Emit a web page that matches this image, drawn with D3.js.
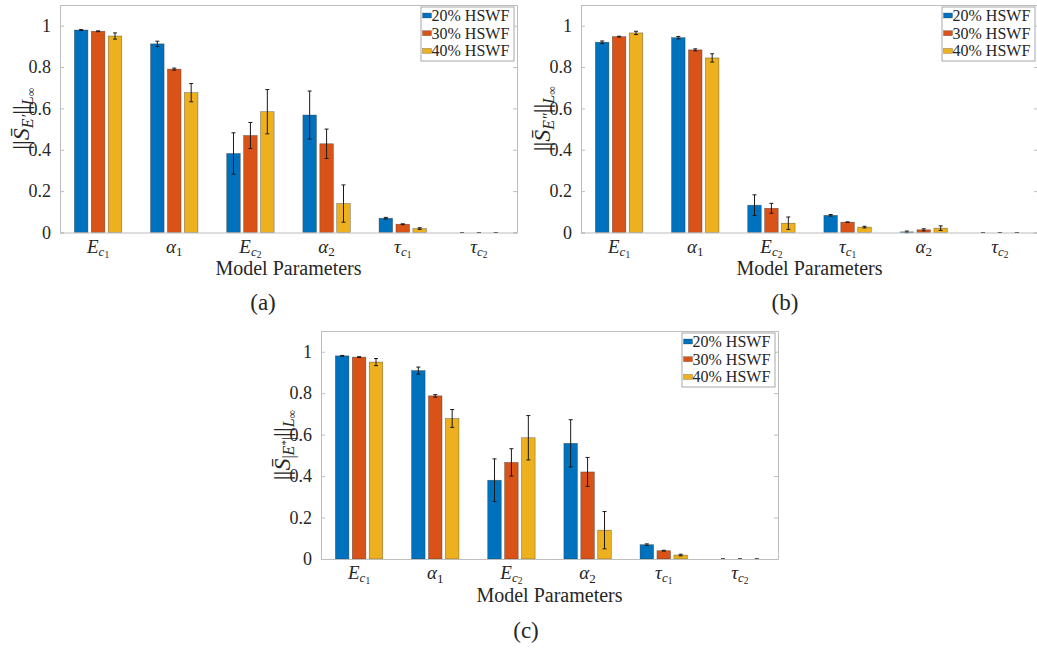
<!DOCTYPE html>
<html><head><meta charset="utf-8">
<script src="https://cdn.jsdelivr.net/npm/d3@7"></script>
<style>
html,body{margin:0;padding:0;background:#fff;}
svg{display:block;}
text{fill:#262626;}
</style></head>
<body>
<svg id="fig" width="1037" height="648"></svg>
<script>
// ---------- DATA ----------
const seriesNames = ["20% HSWF", "30% HSWF", "40% HSWF"];
const seriesColors = ["#0072BD", "#D95319", "#EDB120"];
const yTicks = [0, 0.2, 0.4, 0.6, 0.8, 1];
const yTickLabels = ["0", "0.2", "0.4", "0.6", "0.8", "1"];
const xLabel = "Model Parameters";

// category keys: E1=E_{c1}, a1=α1, E2=E_{c2}, a2=α2, t1=τ_{c1}, t2=τ_{c2}
const catsA = ["E1", "a1", "E2", "a2", "t1", "t2"];
const catsB = ["E1", "a1", "E2", "t1", "a2", "t2"];
const catsC = ["E1", "a1", "E2", "a2", "t1", "t2"];

const valsA20 = [0.979, 0.912, 0.382, 0.568, 0.069, 0];
const valsA30 = [0.973, 0.790, 0.469, 0.429, 0.040, 0];
const valsA40 = [0.950, 0.676, 0.584, 0.140, 0.019, 0];
const errA20 = [0.002, 0.013, 0.100, 0.116, 0.004, 0];
const errA30 = [0.002, 0.005, 0.063, 0.071, 0.002, 0];
const errA40 = [0.015, 0.044, 0.107, 0.090, 0.004, 0];

const valsB20 = [0.920, 0.942, 0.132, 0.083, 0.003, 0];
const valsB30 = [0.947, 0.883, 0.117, 0.050, 0.013, 0];
const valsB40 = [0.965, 0.844, 0.045, 0.026, 0.021, 0];
const errB20 = [0.006, 0.006, 0.050, 0.004, 0.004, 0];
const errB30 = [0.002, 0.005, 0.024, 0.001, 0.005, 0];
const errB40 = [0.008, 0.020, 0.030, 0.004, 0.011, 0];

const valsC20 = [0.980, 0.909, 0.380, 0.558, 0.069, 0];
const valsC30 = [0.974, 0.787, 0.466, 0.420, 0.040, 0];
const valsC40 = [0.950, 0.678, 0.585, 0.139, 0.019, 0];
const errC20 = [0.002, 0.017, 0.103, 0.114, 0.004, 0];
const errC30 = [0.002, 0.006, 0.066, 0.070, 0.002, 0];
const errC40 = [0.017, 0.043, 0.107, 0.090, 0.004, 0];

// ---------- FONT ----------
function hasFont(name) {
  const c = document.createElement("canvas").getContext("2d");
  const s = "Model Parameters 0.8 HSWF";
  c.font = "40px monospace";
  const w0 = c.measureText(s).width;
  c.font = `40px "${name}", monospace`;
  return Math.abs(c.measureText(s).width - w0) > 0.5;
}
const libOK = hasFont("Liberation Serif");
const FONT = libOK ? '"Liberation Serif", "DejaVu Serif", serif' : '"DejaVu Serif", serif';
const FS = libOK ? 1 : 0.82;
const fs = v => v * FS;

// ---------- LAYOUT ----------
const panels = [
  {left: 60, top: 5, w: 457, h: 227.5, cats: catsA, vals: [valsA20, valsA30, valsA40], errs: [errA20, errA30, errA40],
   ylab: "Ep", cap: "(a)", capX: 263, capY: 310},
  {left: 581, top: 5, w: 457, h: 227.5, cats: catsB, vals: [valsB20, valsB30, valsB40], errs: [errB20, errB30, errB40],
   ylab: "Epp", cap: "(b)", capX: 785, capY: 310},
  {left: 321, top: 331, w: 457, h: 228, cats: catsC, vals: [valsC20, valsC30, valsC40], errs: [errC20, errC30, errC40],
   ylab: "Es", cap: "(c)", capX: 526, capY: 638}
];

const svg = d3.select("#fig").style("font-family", FONT);
const axisColor = "#bdbdbd";

function tickLabel(textSel, key) {
  const main = {E1: "E", E2: "E", a1: "\u03B1", a2: "\u03B1", t1: "\u03C4", t2: "\u03C4"}[key];
  textSel.text(null);
  textSel.append("tspan").attr("font-style", "italic").attr("font-size", fs(19)).text(main);
  if (key[0] === "a") {
    textSel.append("tspan").attr("font-size", fs(13)).attr("dy", 3.5).text(key[1]);
  } else {
    textSel.append("tspan").attr("font-style", "italic").attr("font-size", fs(13)).attr("dy", 3).text("c");
    textSel.append("tspan").attr("font-size", fs(9.5)).attr("dy", 2).text(key[1]);
  }
}

function yLabel(g, kind) {
  const t = g.append("text").attr("text-anchor", "middle").attr("font-size", fs(24));
  t.append("tspan").text("||");
  t.append("tspan").attr("font-style", "italic").text("S\u0304");
  if (kind === "Ep") {
    t.append("tspan").attr("font-style", "italic").attr("font-size", fs(16)).attr("dy", 4).text("E\u2032");
  } else if (kind === "Epp") {
    t.append("tspan").attr("font-style", "italic").attr("font-size", fs(16)).attr("dy", 4).text("E\u2033");
  } else {
    t.append("tspan").attr("font-size", fs(16)).attr("dy", 4).text("|");
    t.append("tspan").attr("font-style", "italic").attr("font-size", fs(16)).text("E");
    t.append("tspan").attr("font-size", fs(11)).attr("dy", -5).text("*");
    t.append("tspan").attr("font-size", fs(16)).attr("dy", 5).text("|");
  }
  t.append("tspan").attr("dy", -4).text("||");
  t.append("tspan").attr("font-style", "italic").attr("font-size", fs(16)).attr("dy", 4).text("L");
  t.append("tspan").attr("font-size", fs(12)).attr("dy", 2).text("\u221E");
  return t;
}

panels.forEach(p => {
  const g = svg.append("g").attr("transform", `translate(${p.left},${p.top})`);
  const x = d3.scaleBand().domain(p.cats).range([0, p.w]).paddingInner(0).paddingOuter(0);
  const bw = x.bandwidth();
  const xs = d3.scaleBand().domain(seriesNames)
    .range([bw * (0.5 - 1/3), bw * (0.5 + 1/3)]).paddingInner(0.2).paddingOuter(0.1);
  const y = d3.scaleLinear().domain([0, 1.1]).range([p.h, 0]);

  // bars + error bars
  seriesNames.forEach((s, si) => {
    const data = p.cats.map((c, ci) => ({c, v: p.vals[si][ci], e: p.errs[si][ci]}));
    g.append("g").selectAll("rect").data(data).join("rect")
      .attr("x", d => x(d.c) + xs(s))
      .attr("y", d => y(d.v))
      .attr("width", xs.bandwidth())
      .attr("height", d => y(0) - y(d.v))
      .attr("fill", seriesColors[si])
      .attr("stroke", "rgba(40,40,40,0.55)")
      .attr("stroke-width", 0.6);
    const eg = g.append("g").attr("stroke", "#1a1a1a").attr("stroke-width", 1);
    data.forEach(d => {
      const cx = x(d.c) + xs(s) + xs.bandwidth() / 2;
      eg.append("line").attr("x1", cx).attr("x2", cx).attr("y1", y(d.v - d.e)).attr("y2", y(d.v + d.e));
      eg.append("line").attr("x1", cx - 2).attr("x2", cx + 2).attr("y1", y(d.v - d.e)).attr("y2", y(d.v - d.e));
      eg.append("line").attr("x1", cx - 2).attr("x2", cx + 2).attr("y1", y(d.v + d.e)).attr("y2", y(d.v + d.e));
    });
  });

  // axes
  const yAxis = d3.axisLeft(y).tickValues(yTicks).tickFormat((d, i) => yTickLabels[i]).tickSize(-4).tickPadding(9);
  const ya = g.append("g").call(yAxis).attr("font-family", null);
  ya.select(".domain").attr("stroke", axisColor);
  ya.selectAll(".tick line").attr("stroke", axisColor);
  ya.selectAll(".tick text").attr("font-size", fs(18)).attr("fill", "#262626");

  const yAxisR = d3.axisRight(y).tickValues(yTicks).tickFormat("").tickSize(-4);
  const yr = g.append("g").attr("transform", `translate(${p.w},0)`).call(yAxisR);
  yr.select(".domain").attr("stroke", axisColor);
  yr.selectAll(".tick line").attr("stroke", axisColor);

  const xAxis = d3.axisBottom(x).tickSize(0).tickPadding(19);
  const xa = g.append("g").attr("transform", `translate(0,${p.h})`).call(xAxis).attr("font-family", null);
  xa.select(".domain").attr("stroke", axisColor);
  xa.selectAll(".tick text").attr("dy", 0).attr("y", 20)
    .attr("fill", "#262626").each(function(d) { tickLabel(d3.select(this), d); });
  // top border
  g.append("line").attr("x1", 0).attr("x2", p.w).attr("y1", 0.5).attr("y2", 0.5).attr("stroke", axisColor);

  // x label
  g.append("text").attr("x", p.w / 2).attr("y", p.h + 42.5).attr("text-anchor", "middle")
    .attr("font-size", fs(20)).text(xLabel);

  // y label
  const yl = yLabel(g, p.ylab);
  yl.attr("transform", `translate(${-31},${p.h / 2}) rotate(-90)`);

  // legend
  const lw = 93, lh = 54;
  const lg = g.append("g").attr("transform", `translate(${p.w - 3 - lw},2)`);
  lg.append("rect").attr("width", lw).attr("height", lh).attr("fill", "#fff").attr("stroke", "#a8a8a8").attr("stroke-width", 1);
  seriesNames.forEach((s, i) => {
    const ry = 14 + i * 17.7;
    lg.append("rect").attr("x", 1.5).attr("y", ry - 8).attr("width", 9).attr("height", 5)
      .attr("fill", seriesColors[i]).attr("stroke", "rgba(40,40,40,0.5)").attr("stroke-width", 0.5);
    lg.append("text").attr("x", 10.5).attr("y", ry).attr("font-size", fs(16)).attr("fill", "#111").text(s);
  });

  // caption
  svg.append("text").attr("x", p.capX).attr("y", p.capY).attr("text-anchor", "middle")
    .attr("font-size", fs(23)).attr("fill", "#111").text(p.cap);
});
</script>
</body></html>
